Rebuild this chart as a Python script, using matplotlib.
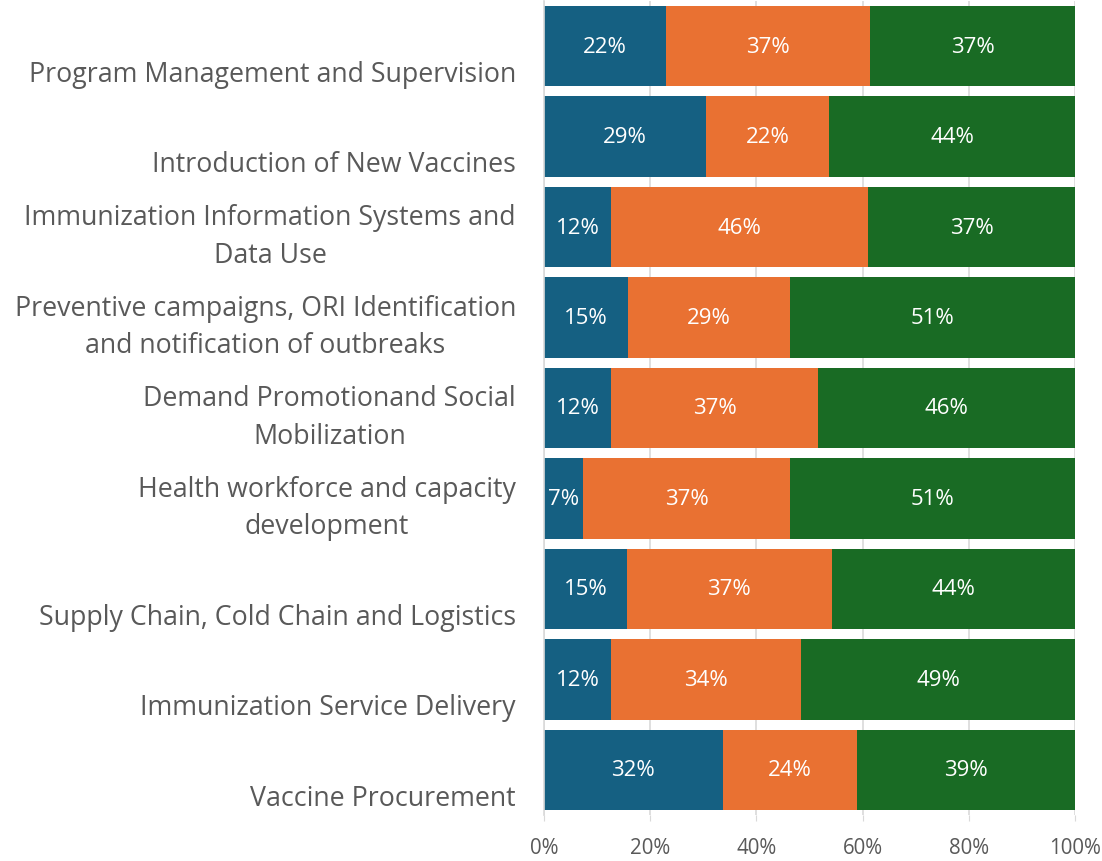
import numpy as np
import matplotlib.pyplot as plt
from matplotlib.ticker import FuncFormatter

categories = [
    "Program Management and Supervision",
    "Introduction of New Vaccines",
    "Immunization Information Systems and\nData Use",
    "Preventive campaigns, ORI Identification\nand notification of outbreaks",
    "Demand Promotionand Social\nMobilization",
    "Health workforce and capacity\ndevelopment",
    "Supply Chain, Cold Chain and Logistics",
    "Immunization Service Delivery",
    "Vaccine Procurement",
]
blue_vals = [22, 29, 12, 15, 12, 7, 15, 12, 32]
orange_vals = [37, 22, 46, 29, 37, 37, 37, 34, 24]
green_vals = [37, 44, 37, 51, 46, 51, 44, 49, 39]

colors = ['#156082', '#E97132', '#196B24']
grey = '#595959'

plt.rcParams['font.family'] = ['Open Sans', 'DejaVu Sans']

vals = np.array([blue_vals, orange_vals, green_vals], dtype=float)
shares = vals / vals.sum(axis=0)

fig = plt.figure(figsize=(11.02, 8.62), dpi=100)
ax = fig.add_axes([544/1102, 1 - 816/862, 531/1102, 814/862])

y = np.arange(len(categories))
left = np.zeros(len(categories))
for k in range(3):
   ax.barh(y, shares[k], left=left, height=0.89, color=colors[k], zorder=2)
   for i in range(len(categories)):
      ax.text(left[i] + shares[k][i] / 2, y[i], f"{int(vals[k][i])}%",
              ha='center', va='center', color='white', fontsize=16, zorder=3)
   left += shares[k]

ax.set_xlim(0, 1)
ax.set_ylim(len(categories) - 0.5, -0.5)
ax.set_xticks(np.linspace(0, 1, 6))
ax.xaxis.set_major_formatter(FuncFormatter(lambda v, p: f"{v*100:.0f}%"))
ax.grid(axis='x', color='#d9d9d9', linewidth=1.2, zorder=0)
ax.tick_params(axis='x', colors='#d9d9d9', labelcolor=grey, labelsize=14.8, length=4, pad=12)
ax.set_yticks([])
for s in ['top', 'right', 'bottom']:
   ax.spines[s].set_visible(False)
ax.spines['left'].set_color('#d9d9d9')
ax.spines['left'].set_linewidth(1.2)

# category labels sit low in each band, last line 35px under the bar centre
for i, lab in enumerate(categories):
   ax.text(-28/531, i + 35/91, lab, ha='right', va='baseline', multialignment='center',
           color=grey, fontsize=19.3, linespacing=1.45, transform=ax.transData, clip_on=False)

fig.savefig('out.png', dpi=100)
